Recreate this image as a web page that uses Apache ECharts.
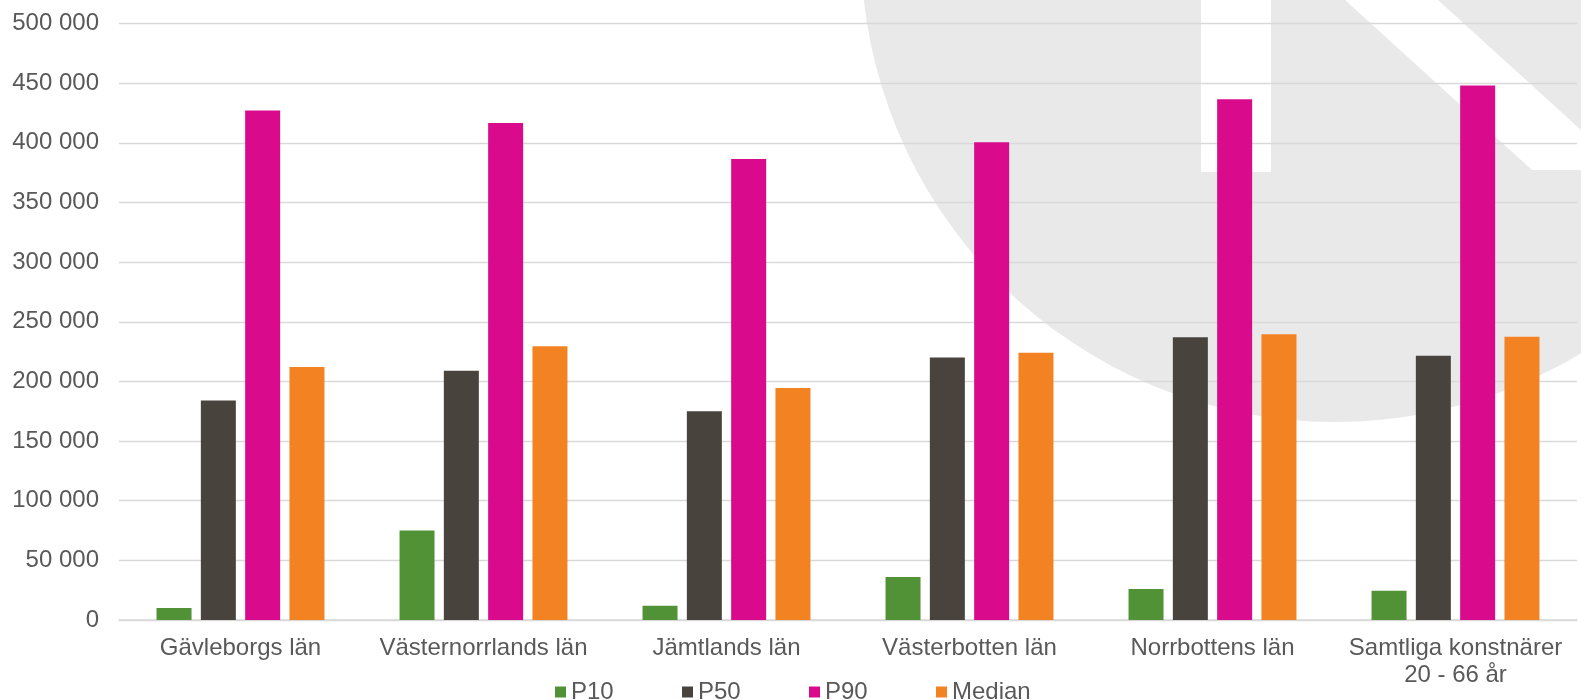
<!DOCTYPE html>
<html>
<head>
<meta charset="utf-8">
<script src="https://cdn.jsdelivr.net/npm/echarts@6/dist/echarts.min.js"></script>
<style>
html,body{margin:0;padding:0;background:#fff;}
#chart{width:1581px;height:700px;}
</style>
</head>
<body>
<div id="chart"></div>
<script>
var categories = ['Gävleborgs län', 'Västernorrlands län', 'Jämtlands län', 'Västerbotten län', 'Norrbottens län', 'Samtliga konstnärer\n20 - 66 år'];
var seriesNames = ['P10', 'P50', 'P90', 'Median'];
var p10 = [10000, 75000, 12000, 36000, 26000, 24500];
var p50 = [184000, 209000, 175000, 220000, 237000, 221500];
var p90 = [427000, 416500, 386500, 400500, 436500, 448000];
var median = [212000, 229500, 194500, 224000, 239500, 237500];
var colors = ['#519236', '#48433C', '#D90B8C', '#F38223'];

var chart = echarts.init(document.getElementById('chart'));
var font = 'Liberation Sans, Arial, sans-serif';
var fs = 24;
function fmt(v) {
  return String(v).replace(/\B(?=(\d{3})+(?!\d))/g, ' ');
}
var values = [p10, p50, p90, median];
var series = seriesNames.map(function (n, i) {
  return {
    name: n,
    type: 'bar',
    data: values[i],
    barWidth: 35,
    barGap: '26.6%',
    itemStyle: { color: colors[i] }
  };
});
var legendLefts = [555, 682, 809, 936];
var legends = seriesNames.map(function (n, i) {
  return {
    data: [n],
    left: legendLefts[i],
    top: 680,
    icon: 'rect',
    itemWidth: 11,
    itemHeight: 11,
    padding: 0,
    textStyle: { fontFamily: font, fontSize: fs, color: '#595959' }
  };
});
chart.setOption({
  animation: false,
  textStyle: { fontFamily: font },
  graphic: [
    { type: 'circle', z: -10, silent: true, shape: { cx: 1335, cy: -52, r: 474 }, style: { fill: '#E9E9E9' } },
    { type: 'rect', z: -9, silent: true, shape: { x: 1201, y: 0, width: 70, height: 172 }, style: { fill: '#FFFFFF' } },
    { type: 'polygon', z: -9, silent: true, shape: { points: [[1345, 0], [1438, 0], [1625, 170], [1532, 170]] }, style: { fill: '#FFFFFF' } }
  ],
  grid: { left: 119, right: 4, top: 23.5, bottom: 80, containLabel: false },
  legend: legends,
  xAxis: {
    type: 'category',
    data: categories,
    axisLine: { show: true, lineStyle: { color: '#D9D9D9', width: 1.5 } },
    axisTick: { show: false },
    axisLabel: { fontFamily: font, fontSize: fs, color: '#595959', margin: 15, lineHeight: 27, interval: 0 }
  },
  yAxis: {
    type: 'value',
    min: 0,
    max: 500000,
    interval: 50000,
    axisLine: { show: false },
    axisTick: { show: false },
    splitLine: { lineStyle: { color: '#D9D9D9', width: 1.3 } },
    axisLabel: { fontFamily: font, fontSize: fs, color: '#595959', margin: 20, formatter: fmt }
  },
  series: series
});
</script>
</body>
</html>
